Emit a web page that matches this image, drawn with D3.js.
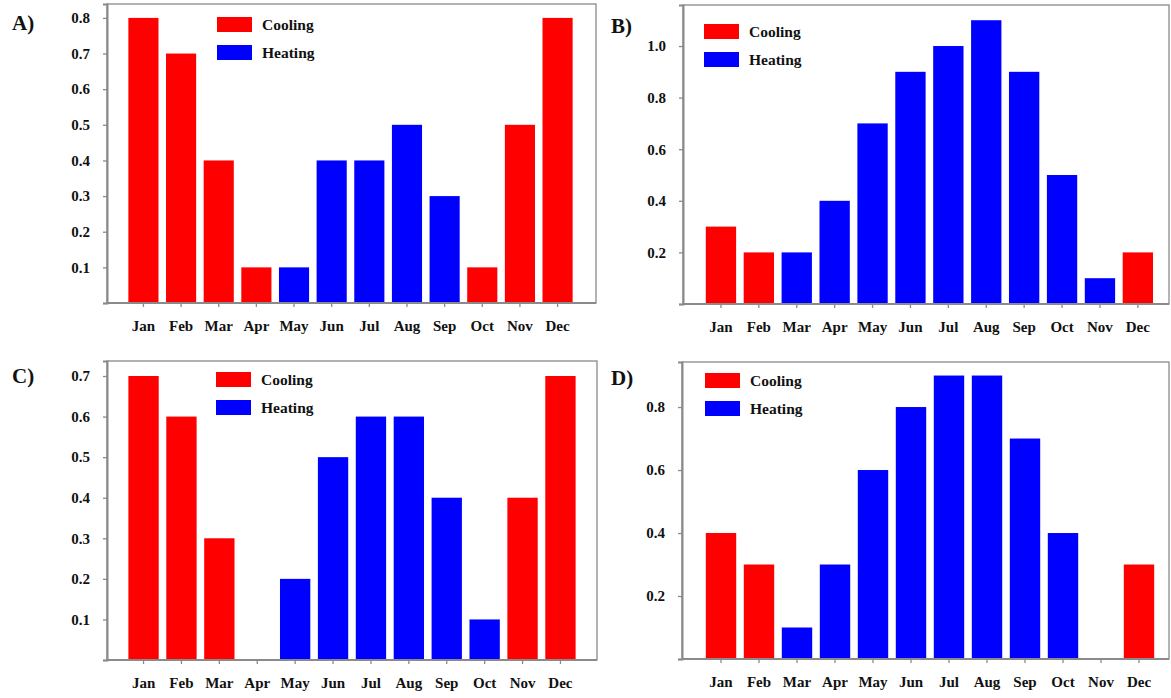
<!DOCTYPE html>
<html><head><meta charset="utf-8">
<script src="https://cdn.jsdelivr.net/npm/d3@7"></script>
<style>body{margin:0;background:#fff}svg{display:block}</style>
</head><body>
<svg id="chart" width="1171" height="698"></svg>
<script>
const months = ["Jan","Feb","Mar","Apr","May","Jun","Jul","Aug","Sep","Oct","Nov","Dec"];
const seriesNames = ["Cooling","Heating"];
const seriesColors = ["#ff0000","#0000ff"];

const valuesA = [0.8,0.7,0.4,0.1,0.1,0.4,0.4,0.5,0.3,0.1,0.5,0.8];
const typesA  = ["Cooling","Cooling","Cooling","Cooling","Heating","Heating","Heating","Heating","Heating","Cooling","Cooling","Cooling"];
const ticksA  = [0,0.1,0.2,0.3,0.4,0.5,0.6,0.7,0.8];

const valuesB = [0.3,0.2,0.2,0.4,0.7,0.9,1.0,1.1,0.9,0.5,0.1,0.2];
const typesB  = ["Cooling","Cooling","Heating","Heating","Heating","Heating","Heating","Heating","Heating","Heating","Heating","Cooling"];
const ticksB  = [0,0.2,0.4,0.6,0.8,1.0];

const valuesC = [0.7,0.6,0.3,0,0.2,0.5,0.6,0.6,0.4,0.1,0.4,0.7];
const typesC  = ["Cooling","Cooling","Cooling","Cooling","Heating","Heating","Heating","Heating","Heating","Heating","Cooling","Cooling"];
const ticksC  = [0,0.1,0.2,0.3,0.4,0.5,0.6,0.7];

const valuesD = [0.4,0.3,0.1,0.3,0.6,0.8,0.9,0.9,0.7,0.4,0,0.3];
const typesD  = ["Cooling","Cooling","Heating","Heating","Heating","Heating","Heating","Heating","Heating","Heating","Cooling","Cooling"];
const ticksD  = [0,0.2,0.4,0.6,0.8];

const svg = d3.select("#chart");
const color = d3.scaleOrdinal().domain(seriesNames).range(seriesColors);
const serif = "'Liberation Serif','Times New Roman',serif";
const axisCol = "#8a8a8a";

const panels = [
  {label:"A)", vals:valuesA, types:typesA, ticks:ticksA, fmt:d3.format(".1f"), x0:107, x1:596, y0:4, y1:303, ymax:0.839, bandStart:124.6, step:37.65, lx:12, ly:30, legX:217, legY:17},
  {label:"B)", vals:valuesB, types:typesB, ticks:ticksB, fmt:d3.format(".1f"), x0:683, x1:1169, y0:5, y1:304, ymax:1.159, bandStart:702, step:37.9, lx:611, ly:33, legX:704, legY:24},
  {label:"C)", vals:valuesC, types:typesC, ticks:ticksC, fmt:d3.format(".1f"), x0:107, x1:597, y0:361, y1:660, ymax:0.737, bandStart:124.6, step:37.9, lx:12, ly:383, legX:216, legY:372},
  {label:"D)", vals:valuesD, types:typesD, ticks:ticksD, fmt:d3.format(".1f"), x0:682, x1:1169, y0:362, y1:659, ymax:0.943, bandStart:702, step:38.0, lx:611, ly:385, legX:705, legY:373}
];

panels.forEach(p => {
  const g = svg.append("g");
  const x = d3.scaleBand().domain(months)
    .range([p.bandStart, p.bandStart + 12*p.step]).paddingInner(0.2).paddingOuter(0.1);
  const y = d3.scaleLinear().domain([0, p.ymax]).range([p.y1, p.y0]);

  g.append("rect").attr("x", p.x0).attr("y", p.y0).attr("width", p.x1 - p.x0).attr("height", p.y1 - p.y0)
    .attr("fill", "none").attr("stroke", axisCol).attr("stroke-width", 1.3);

  g.selectAll("rect.bar").data(months.map((m,i)=>({m, v:p.vals[i], t:p.types[i]})).filter(d=>d.v>0))
    .join("rect").attr("class","bar")
    .attr("x", d => x(d.m)).attr("width", x.bandwidth())
    .attr("y", d => y(d.v)).attr("height", d => y(0) - y(d.v))
    .attr("fill", d => color(d.t));

  const ya = g.append("g").attr("transform", `translate(${p.x0},0)`)
    .call(d3.axisLeft(y).tickValues(p.ticks).tickFormat(d => d === 0 ? "" : p.fmt(d)).tickSize(4).tickPadding(13));
  ya.select(".domain").attr("stroke", axisCol).attr("stroke-width", 2);
  ya.selectAll(".tick line").attr("stroke", axisCol).attr("stroke-width", 1.3);
  ya.selectAll(".tick text").attr("font-family", serif).attr("font-weight", "bold").attr("font-size", 15).attr("fill", "#111");

  const xa = g.append("g").attr("transform", `translate(0,${p.y1})`)
    .call(d3.axisBottom(x).tickSize(4).tickPadding(13));
  xa.select(".domain").attr("stroke", axisCol).attr("stroke-width", 2).attr("d", `M${p.x0},0H${p.x1}`);
  xa.selectAll(".tick line").attr("stroke", axisCol).attr("stroke-width", 1.3);
  xa.selectAll(".tick text").attr("font-family", serif).attr("font-weight", "bold").attr("font-size", 15).attr("fill", "#111");

  g.append("text").attr("x", p.lx).attr("y", p.ly).text(p.label)
    .attr("font-family", serif).attr("font-weight", "bold").attr("font-size", 21).attr("fill", "#111");

  const lg = g.append("g").attr("transform", `translate(${p.legX},${p.legY})`);
  seriesNames.forEach((s, i) => {
    lg.append("rect").attr("x", 0).attr("y", i*28).attr("width", 35).attr("height", 15).attr("fill", color(s));
    lg.append("text").attr("x", 45).attr("y", i*28 + 13).text(s)
      .attr("font-family", serif).attr("font-weight", "bold").attr("font-size", 15.5).attr("fill", "#111");
  });
});
</script>
</body></html>
